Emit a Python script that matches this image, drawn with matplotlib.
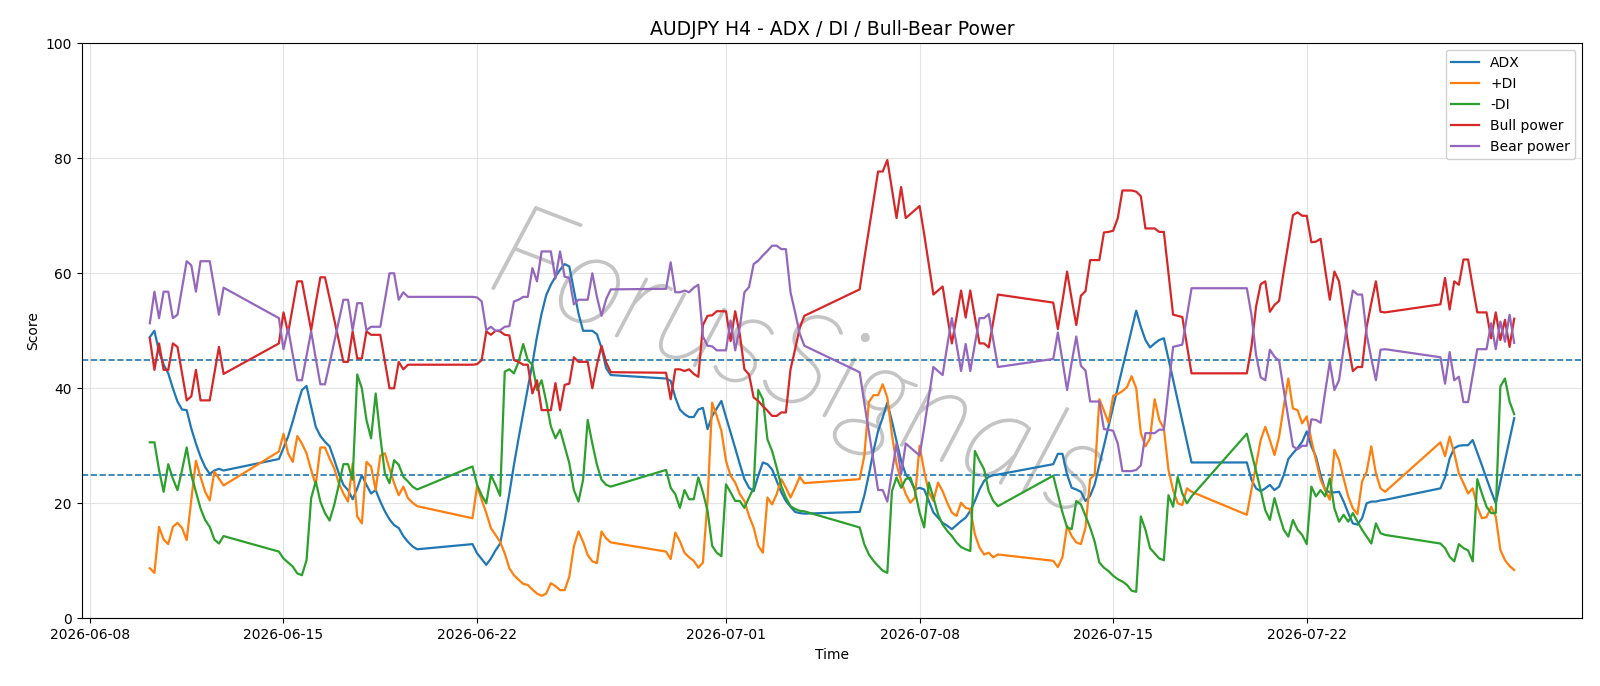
import matplotlib
matplotlib.use("Agg")
import matplotlib.pyplot as plt
import matplotlib.dates as mdates
import matplotlib.patheffects as pe
import pandas as pd
import numpy as np

# ---- time axis: continuous H4 segments (start, number of bars) ----
seg_starts = ["2026-06-10 04:00", "2026-06-14 20:00", "2026-06-21 20:00", "2026-06-28 20:00",
              "2026-07-05 20:00", "2026-07-12 20:00", "2026-07-19 20:00", "2026-07-26 20:00"]
seg_lengths = [17, 31, 31, 31, 31, 31, 31, 17]

adx = [
    48.9, 50.0, 46.4, 44.1, 42.6, 40.0, 37.7, 36.3, 36.2, 33.0, 30.4, 28.1, 26.3, 25.1, 25.7, 26.0, 25.7,
    27.7, 29.6, 31.6, 34.2, 37.1, 39.7, 40.4, 36.8, 33.3, 31.7, 30.7, 29.9, 27.6, 25.2, 23.2, 22.3, 20.7, 22.6, 24.9, 23.2, 21.7, 22.3, 20.3, 18.6, 17.2, 16.2, 15.7, 14.3, 13.3, 12.5, 12.0,
    12.9, 11.3, 10.3, 9.3, 10.4, 11.8, 13.0, 17.1, 21.7, 26.7, 31.3, 35.7, 40.0, 44.3, 49.0, 53.0, 56.2, 58.0, 59.4, 60.6, 61.6, 61.2, 57.1, 53.0, 50.0, 50.0, 50.0, 49.4, 47.0, 43.5, 42.3,
    41.7, 41.3, 38.4, 36.3, 35.5, 35.0, 35.0, 36.3, 36.6, 32.9, 35.2, 36.5, 37.8, 35.0, 32.3, 29.6, 26.8, 24.2, 22.7, 22.1, 24.8, 27.1, 26.8, 25.9, 23.9, 21.9, 20.4, 19.4, 18.5, 18.3, 18.2,
    18.5, 21.3, 25.0, 29.1, 32.6, 34.9, 37.5, 34.3, 30.8, 27.4, 25.0, 24.0, 22.4, 22.7, 22.4, 20.4, 18.4, 17.5, 16.6, 16.1, 15.5, 16.2, 16.9, 17.5, 18.7, 20.4, 22.4, 23.9, 24.6, 24.9, 25.0,
    26.8, 28.6, 28.6, 25.0, 22.7, 22.4, 22.0, 20.4, 21.3, 23.3, 26.7, 30.0, 33.4, 36.8, 40.1, 43.5, 46.8, 50.2, 53.5, 50.7, 48.4, 47.1, 47.8, 48.4, 48.7, 45.1, 41.5, 37.9, 34.3, 30.7, 27.1,
    27.1, 24.1, 22.6, 22.1, 22.6, 23.2, 22.3, 22.9, 24.9, 27.7, 28.7, 29.6, 30.7, 32.5, 29.9, 28.1, 24.9, 22.3, 21.9, 21.9, 22.0, 20.3, 18.3, 16.5, 16.3, 17.4, 20.0, 20.3, 20.3, 20.5, 20.6,
    22.6, 24.5, 27.8, 29.6, 30.0, 30.1, 30.1, 31.0, 28.8, 26.6, 24.3, 22.1, 20.0, 23.7, 27.4, 31.1, 34.8,
]

plus_di = [
    8.7, 7.9, 15.9, 13.7, 12.9, 15.9, 16.6, 15.7, 13.6, 20.6, 27.4, 24.6, 22.0, 20.5, 25.5, 24.3, 23.1,
    29.0, 32.1, 28.7, 27.2, 31.7, 30.4, 28.7, 25.8, 23.2, 29.7, 29.7, 27.8, 26.1, 23.5, 21.7, 20.3, 26.9, 17.7, 16.5, 27.2, 26.4, 22.3, 28.3, 28.7, 26.0, 23.5, 21.4, 22.9, 20.9, 20.1, 19.5,
    17.4, 23.0, 20.6, 18.3, 15.7, 14.5, 13.3, 11.3, 8.7, 7.5, 6.7, 6.0, 5.8, 5.0, 4.3, 3.9, 4.3, 6.1, 5.6, 4.9, 4.9, 7.2, 12.5, 15.1, 13.3, 11.0, 9.9, 9.6, 15.1, 13.9, 13.2,
    11.6, 10.3, 14.9, 13.4, 11.4, 10.6, 10.0, 8.8, 9.7, 20.4, 37.5, 35.2, 32.6, 27.4, 24.8, 23.6, 21.6, 20.4, 17.8, 15.8, 12.6, 11.4, 21.0, 19.8, 21.6, 24.2, 22.7, 21.0, 22.7, 24.6, 23.5,
    24.2, 28.2, 37.6, 38.8, 38.8, 40.7, 38.4, 32.0, 26.8, 23.9, 21.6, 20.1, 21.0, 30.0, 25.6, 21.9, 20.4, 23.6, 22.1, 20.1, 18.4, 17.8, 20.1, 19.2, 19.0, 14.6, 12.3, 11.1, 11.4, 10.6, 11.1,
    10.0, 8.9, 10.6, 16.1, 14.3, 13.2, 12.9, 15.8, 24.2, 25.0, 38.1, 36.1, 34.0, 38.7, 39.0, 39.5, 40.2, 42.1, 40.0, 32.2, 29.9, 31.3, 38.1, 34.5, 33.0, 25.8, 22.3, 20.0, 19.7, 22.6, 22.0,
    18.0, 22.3, 26.7, 31.0, 33.3, 31.0, 28.4, 31.6, 36.8, 41.7, 36.5, 36.2, 33.9, 35.1, 31.0, 27.5, 24.1, 22.3, 20.6, 29.3, 27.5, 24.3, 21.2, 19.1, 18.1, 23.8, 25.5, 29.9, 25.2, 22.6, 22.0,
    30.6, 28.2, 31.6, 28.7, 25.2, 23.5, 21.7, 22.6, 19.4, 17.4, 17.6, 19.4, 17.7, 11.9, 10.1, 9.1, 8.4,
]

minus_di = [
    30.6, 30.6, 25.8, 22.0, 26.8, 24.3, 22.3, 25.8, 29.7, 24.9, 22.0, 19.1, 17.1, 15.9, 13.7, 13.0, 14.3,
    11.6, 10.4, 9.7, 9.0, 7.8, 7.5, 10.1, 20.9, 23.8, 20.3, 18.3, 17.0, 19.7, 23.2, 26.8, 26.8, 24.1, 42.4, 40.0, 34.5, 31.3, 39.1, 31.6, 25.2, 23.5, 27.5, 26.7, 24.6, 23.8, 22.9, 22.4,
    26.4, 23.2, 21.4, 20.0, 24.9, 23.2, 21.3, 42.9, 43.3, 42.6, 44.6, 47.7, 44.9, 44.1, 39.7, 41.4, 37.7, 33.4, 31.3, 32.8, 29.9, 27.0, 22.3, 20.3, 24.1, 34.5, 30.4, 26.7, 24.1, 23.2, 22.9,
    25.8, 22.7, 21.6, 19.2, 22.3, 20.7, 20.7, 24.5, 21.9, 18.7, 12.6, 11.4, 10.8, 23.3, 21.9, 20.4, 20.4, 19.2, 21.0, 22.7, 39.7, 38.1, 31.1, 29.1, 26.2, 23.0, 21.0, 19.5, 19.0, 18.7, 18.6,
    15.8, 12.9, 11.1, 10.0, 9.1, 8.3, 7.9, 22.1, 24.5, 22.7, 24.2, 24.5, 22.1, 18.4, 15.8, 23.6, 21.0, 18.1, 16.3, 15.2, 14.3, 13.2, 12.4, 12.0, 11.7, 29.1, 27.4, 25.9, 22.1, 20.4, 19.5,
    24.8, 21.6, 18.4, 15.8, 15.5, 20.4, 19.8, 17.8, 15.8, 13.3, 9.7, 8.8, 8.2, 7.4, 6.8, 6.4, 5.8, 4.8, 4.6, 17.7, 15.4, 12.2, 11.3, 10.4, 10.1, 21.4, 19.4, 24.6, 21.7, 20.0, 21.2,
    32.1, 28.8, 25.6, 22.3, 18.8, 17.1, 20.9, 18.0, 15.4, 14.2, 17.1, 15.4, 14.5, 12.9, 22.9, 21.2, 22.3, 21.2, 24.3, 19.1, 16.8, 18.0, 16.8, 18.3, 16.8, 15.4, 14.2, 13.0, 16.5, 14.8, 14.5,
    13.0, 12.2, 10.7, 9.9, 12.9, 12.2, 11.8, 9.9, 24.2, 21.7, 19.4, 18.3, 18.3, 40.3, 41.7, 37.7, 35.5,
]

bull_power = [
    48.7, 43.2, 47.8, 43.2, 43.2, 47.8, 47.2, 42.6, 37.9, 38.6, 43.2, 37.9, 37.9, 37.9, 42.5, 47.2, 42.5,
    47.8, 53.2, 49.6, 54.1, 58.6, 58.6, 54.3, 50.1, 54.8, 59.3, 59.3, 55.7, 52.0, 48.3, 44.6, 44.6, 49.9, 45.2, 45.2, 49.9, 49.3, 49.3, 49.3, 44.6, 40.0, 40.0, 44.6, 43.3, 44.1, 44.1, 44.1,
    44.1, 44.2, 44.9, 49.9, 49.3, 50.0, 49.9, 49.3, 49.2, 44.9, 44.6, 44.1, 44.1, 39.1, 41.4, 36.2, 36.2, 36.2, 40.9, 36.2, 40.6, 40.8, 45.4, 44.6, 44.6, 44.6, 40.0, 44.1, 47.4, 44.5, 42.8,
    42.7, 38.1, 43.3, 43.3, 43.0, 43.3, 42.5, 42.0, 51.0, 52.6, 52.7, 53.4, 53.4, 53.4, 48.2, 53.4, 49.4, 43.3, 42.4, 38.4, 37.8, 36.9, 36.1, 35.2, 35.2, 35.8, 35.8, 43.3, 46.8, 50.5, 52.6,
    57.2, 62.5, 67.5, 72.6, 77.7, 77.7, 79.7, 74.6, 69.6, 75.0, 69.6, 70.3, 71.0, 71.7, 66.8, 61.6, 56.3, 57.0, 57.7, 52.6, 47.8, 52.3, 57.0, 52.3, 57.0, 52.3, 47.8, 47.8, 47.1, 51.7, 56.3,
    54.9, 50.3, 55.2, 60.3, 55.5, 51.0, 56.1, 56.9, 62.3, 62.3, 62.3, 67.1, 67.2, 67.4, 69.6, 74.4, 74.4, 74.4, 74.2, 73.4, 67.8, 67.8, 67.8, 67.2, 67.2, 60.0, 52.8, 52.6, 52.4, 47.5, 42.6,
    42.6, 47.2, 54.2, 58.1, 58.6, 53.3, 54.5, 55.2, 60.3, 65.2, 70.1, 70.6, 70.0, 70.0, 65.4, 65.5, 66.0, 60.6, 55.4, 60.3, 58.6, 53.0, 47.5, 43.0, 43.7, 43.7, 50.7, 54.8, 58.6, 53.3, 53.2,
    54.6, 59.2, 53.7, 58.6, 58.0, 62.4, 62.4, 57.7, 53.2, 53.2, 53.2, 48.7, 53.2, 48.4, 51.9, 47.2, 52.1,
]

bear_power = [
    51.3, 56.8, 52.2, 56.8, 56.8, 52.2, 52.8, 57.4, 62.1, 61.4, 56.8, 62.1, 62.1, 62.1, 57.5, 52.8, 57.5,
    52.2, 46.8, 50.4, 45.9, 41.4, 41.4, 45.7, 49.9, 45.2, 40.7, 40.7, 44.3, 48.0, 51.7, 55.4, 55.4, 50.1, 54.8, 54.8, 50.1, 50.7, 50.7, 50.7, 55.4, 60.0, 60.0, 55.4, 56.7, 55.9, 55.9, 55.9,
    55.9, 55.8, 55.1, 50.1, 50.7, 50.0, 50.1, 50.7, 50.8, 55.1, 55.4, 55.9, 55.9, 60.9, 58.6, 63.8, 63.8, 63.8, 59.1, 63.8, 59.4, 59.2, 54.6, 55.4, 55.4, 55.4, 60.0, 55.9, 52.6, 55.5, 57.2,
    57.3, 61.9, 56.7, 56.7, 57.0, 56.7, 57.5, 58.0, 49.0, 47.4, 47.3, 46.6, 46.6, 46.6, 51.8, 46.6, 50.6, 56.7, 57.6, 61.6, 62.2, 63.1, 63.9, 64.8, 64.8, 64.2, 64.2, 56.7, 53.2, 49.5, 47.4,
    42.8, 37.5, 32.5, 27.4, 22.3, 22.3, 20.3, 25.4, 30.4, 25.0, 30.4, 29.7, 29.0, 28.3, 33.2, 38.4, 43.7, 43.0, 42.3, 47.4, 52.2, 47.7, 43.0, 47.7, 43.0, 47.7, 52.2, 52.2, 52.9, 48.3, 43.7,
    45.1, 49.7, 44.8, 39.7, 44.5, 49.0, 43.9, 43.1, 37.7, 37.7, 37.7, 32.9, 32.8, 32.6, 30.4, 25.6, 25.6, 25.6, 25.8, 26.6, 32.2, 32.2, 32.2, 32.8, 32.8, 40.0, 47.2, 47.4, 47.6, 52.5, 57.4,
    57.4, 52.8, 45.8, 41.9, 41.4, 46.7, 45.5, 44.8, 39.7, 34.8, 29.9, 29.4, 30.0, 30.0, 34.6, 34.5, 34.0, 39.4, 44.6, 39.7, 41.4, 47.0, 52.5, 57.0, 56.3, 56.3, 49.3, 45.2, 41.4, 46.7, 46.8,
    45.4, 40.8, 46.3, 41.4, 42.0, 37.6, 37.6, 42.3, 46.8, 46.8, 46.8, 51.3, 46.8, 51.6, 48.1, 52.8, 47.9,
]

threshold_lines = [45, 25]
title = "AUDJPY H4 - ADX / DI / Bull-Bear Power"
watermark = "ForusSignals"

# ---- build time index ----
times = pd.DatetimeIndex(np.concatenate([
    pd.date_range(s, periods=n, freq="4h").values for s, n in zip(seg_starts, seg_lengths)
]))

fig = plt.figure(figsize=(16, 6.86), dpi=100)
ax = fig.add_axes([0.051, 0.0987, 0.938, 0.8382])

ax.plot(times, adx, color="#1f77b4", lw=1.6, label="ADX", zorder=3)
ax.plot(times, plus_di, color="#ff7f0e", lw=1.6, label="+DI", zorder=3)
ax.plot(times, minus_di, color="#2ca02c", lw=1.6, label="-DI", zorder=3)
ax.plot(times, bull_power, color="#d62728", lw=1.6, label="Bull power", zorder=3)
ax.plot(times, bear_power, color="#9467bd", lw=1.6, label="Bear power", zorder=3)

for y in threshold_lines:
    ax.axhline(y, color="#1f77b4", ls="--", lw=1.2, zorder=2)

ax.set_ylim(0, 100)
ax.set_title(title, fontsize=13.5)
ax.set_xlabel("Time", fontsize=10)
ax.set_ylabel("Score", fontsize=10)
ax.grid(True, color="#dddddd", lw=0.8, alpha=0.8)
ax.set_axisbelow(True)

ax.xaxis.set_major_locator(mdates.DayLocator(bymonthday=[1, 8, 15, 22]))
ax.xaxis.set_major_formatter(mdates.DateFormatter("%Y-%m-%d"))
ax.tick_params(labelsize=10)

wm_color = "#c4c4c4"
ax.text(0.477, 0.435, watermark, transform=ax.transAxes, fontsize=94, color=wm_color,
        rotation=-21, ha="center", va="center", style="italic",
        family="Lato", fontweight="light", zorder=1,
        path_effects=[pe.withStroke(linewidth=1.6, foreground=wm_color)])

ax.legend(loc="upper right", fontsize=10, framealpha=0.9)

fig.savefig("out.png", dpi=100)
